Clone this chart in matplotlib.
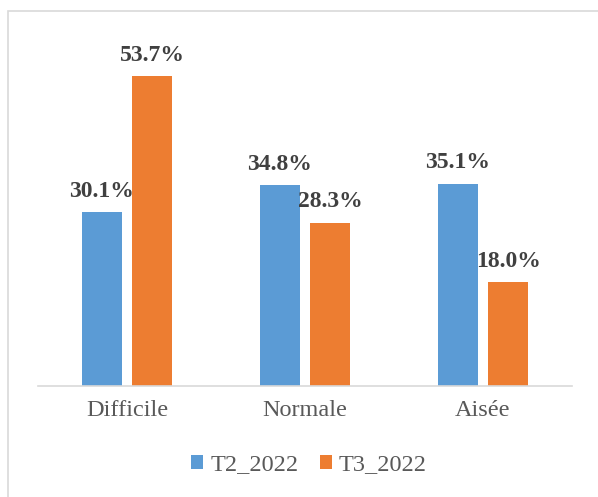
import matplotlib
matplotlib.use("Agg")
import numpy as np
from matplotlib import pyplot as plt
from matplotlib.patches import Rectangle

# Data
categories = ["Difficile", "Normale", "Aisée"]
t2_2022 = [30.1, 34.8, 35.1]
t3_2022 = [53.7, 28.3, 18.0]
series_names = ["T2_2022", "T3_2022"]

blue = "#5B9BD5"
orange = "#ED7D31"
grey_txt = "#595959"
grey_line = "#D9D9D9"

plt.rcParams["font.family"] = ["Liberation Serif", "DejaVu Serif"]

fig = plt.figure(figsize=(5.98, 4.97), dpi=100)
ax = fig.add_axes([38/598, 1 - 386/497, (572 - 38)/598, 0.6963])

x = np.arange(len(categories))
w = 0.225
off = 0.143
b1 = ax.bar(x - off, t2_2022, w, color=blue, label=series_names[0])
b2 = ax.bar(x + off, t3_2022, w, color=orange, label=series_names[1])

for bars, vals in ((b1, t2_2022), (b2, t3_2022)):
    for rect, v in zip(bars, vals):
        ax.annotate(f"{v:.1f}%", (rect.get_x() + rect.get_width()/2, rect.get_height()),
                    xytext=(0, 11), textcoords="offset points", ha="center", va="baseline",
                    fontsize=17, fontweight="bold", color="#404040")

ax.set_xlim(-0.5, 2.5)
ax.set_ylim(0, 60)
ax.set_xticks(x)
ax.set_xticklabels(categories, fontsize=17.5, color=grey_txt)
ax.tick_params(axis="x", length=0, pad=10)
ax.set_yticks([])
for s in ("top", "right", "left"):
    ax.spines[s].set_visible(False)
ax.spines["bottom"].set_color(grey_line)
ax.spines["bottom"].set_linewidth(1.2)

# chart border
fig.patches.append(Rectangle((8/598, -0.1), 1.2, 1 - 11/497 + 0.1, transform=fig.transFigure,
                             fill=False, edgecolor=grey_line, linewidth=1.2))

fig.legend(handles=[b1, b2], loc="center", bbox_to_anchor=(0.517, 1 - 465/497), ncol=2,
           frameon=False, fontsize=17.5, handlelength=0.5, handleheight=0.5,
           handletextpad=0.3, columnspacing=0.85, labelcolor=grey_txt)

fig.savefig("out.png", dpi=100)
